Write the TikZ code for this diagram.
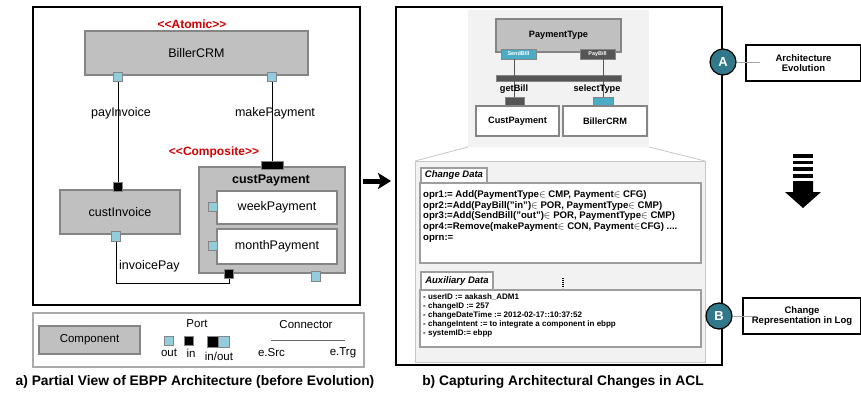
\documentclass[tikz,border=0pt]{standalone}
\usepackage{fontspec}
\setmainfont{Liberation Sans}
\usetikzlibrary{arrows.meta}
\definecolor{compgray}{HTML}{C0C0C0}
\definecolor{edgegray}{HTML}{858585}
\definecolor{lightblue}{HTML}{93CDDD}
\definecolor{midblue}{HTML}{4BACC6}
\definecolor{portdark}{HTML}{555555}
\definecolor{panelgray}{HTML}{F2F2F2}
\definecolor{panelline}{HTML}{C6C6C6}
\definecolor{circteal}{HTML}{31788A}
\definecolor{stereo}{HTML}{D00000}
\newcommand\setfs[1]{\fontsize{#1}{#1}\selectfont}
\tikzset{
  comp/.style={draw=edgegray, fill=compgray, line width=1.3pt, inner sep=0pt, font=\setfs{12.5}},
  subcomp/.style={draw=edgegray, fill=white, line width=1.3pt, inner sep=0pt, font=\setfs{12.5}},
  portout/.style={draw=edgegray, fill=lightblue, line width=0.8pt, minimum size=9.5pt, inner sep=0pt},
  portin/.style={draw=edgegray, fill=black, line width=0.8pt, minimum size=9.5pt, inner sep=0pt},
  conn/.style={black, line width=1pt},
  stereotype/.style={text=stereo, font=\bfseries\setfs{12}},
  lbl/.style={font=\setfs{12.5}, inner sep=0pt},
  leg/.style={font=\setfs{11.5}, inner sep=0pt},
  caption/.style={font=\bfseries\setfs{13.8}, inner sep=0pt},
  frame/.style={draw=black, line width=1.2pt},
  rbox/.style={draw=edgegray, fill=white, line width=1.2pt, inner sep=0pt, font=\bfseries\setfs{9.2}},
  rport/.style={draw=edgegray, line width=0.8pt, inner sep=0pt, text=white, font=\bfseries\setfs{5.5}},
  tab/.style={draw=edgegray!80, fill=white, line width=1.5pt, inner sep=0pt, font=\bfseries\itshape\setfs{9.5}},
  databox/.style={draw=edgegray!80, fill=white, line width=1.5pt, inner sep=0pt},
  datatext/.style={align=left, inner sep=0pt},
  marker/.style={circle, draw=black, line width=1.2pt, fill=circteal, minimum size=26pt, inner sep=0pt, text=white, font=\bfseries\setfs{13}},
  notebox/.style={draw=black, line width=1.1pt, fill=white, inner sep=0pt, align=center, font=\bfseries\setfs{9.5}},
}
\begin{document}
\begin{tikzpicture}[x=1pt, y=-1pt]
\useasboundingbox (0,0) rectangle (861,394);

% ---------------- a) architecture view ----------------
\draw[frame] (33,7) rectangle (360,305);

\node[stereotype] (atomic) at (192,24) {<{}<Atomic>{}>};
\node[comp, minimum width=223pt, minimum height=44pt] (biller) at (196.5,53) {BillerCRM};
\node[portout] (bOut1) at (118,77) {};
\node[portout] (bOut2) at (272,77) {};

\node[comp, minimum width=120pt, minimum height=44pt] (custInv) at (120,212) {custInvoice};
\node[portin] (ciIn) at (118,187) {};
\node[portout] (ciOut) at (116,236.5) {};

\node[stereotype] (composite) at (214,152) {<{}<Composite>{}>};
\node[comp, minimum width=146pt, minimum height=106pt] (custPay) at (272,220) {};
\node[font=\bfseries\setfs{12.5}, inner sep=0pt] (custPayLbl) at (271,180) {custPayment};
\node[portin, minimum width=22pt, minimum height=8pt] (cpIn) at (272,165) {};
\node[subcomp, minimum width=120pt, minimum height=33pt] (week) at (277,207.5) {weekPayment};
\node[subcomp, minimum width=120pt, minimum height=35pt] (month) at (277,246.5) {monthPayment};
\node[portout] (wPort) at (213,207) {};
\node[portout] (mPort) at (213,246) {};
\node[portin, minimum width=9pt] (cpIn2) at (229,274) {};
\node[portout] (cpOut) at (316,276.5) {};

% connectors
\draw[conn] (bOut1.south) -- (ciIn.north);
\draw[conn] (bOut2.south) -- (cpIn.north);
\coordinate (ipA) at (116,283);
\coordinate (ipB) at (229,283);
\draw[conn] (ciOut.south) -- (ipA) -- (ipB) -- (cpIn2.south);

\node[lbl] (payInvLbl) at (121,113) {payInvoice};
\node[lbl] (makePayLbl) at (275,113) {makePayment};
\node[lbl, anchor=west] (invPayLbl) at (119,266) {invoicePay};

% legend
\draw[draw=edgegray!70, line width=1.4pt] (33,313) rectangle (364,367);
\node[comp, minimum width=101pt, minimum height=28pt, font=\setfs{11.5}] (legComp) at (89.5,340) {Component};
\node[leg] (legPort) at (197,324) {Port};
\node[portout, minimum size=8.5pt] (legOut) at (169,341) {};
\node[portin, minimum size=8.5pt] (legIn) at (189,341) {};
\node[portin, minimum size=11pt] (legIO1) at (212.5,341.5) {};
\node[portout, minimum size=11pt] (legIO2) at (223.5,341.5) {};
\node[leg] (legOutT) at (169,353) {out};
\node[leg] (legInT) at (191,353) {in};
\node[leg] (legIOT) at (219,356) {in/out};
\node[leg] (legConn) at (306,325) {Connector};
\node[leg] (legSrc) at (271.5,353) {e.Src};
\node[leg] (legTrg) at (343,353) {e.Trg};
\coordinate (lcA) at (271,340);
\coordinate (lcB) at (345,340);
\draw[draw=black!60, line width=0.8pt] (lcA) -- (lcB);

\node[caption] (capA) at (195,382) {a) Partial View of EBPP Architecture (before Evolution)};

% arrow between the two panels
\coordinate (arS) at (363,181);
\coordinate (arE) at (391,181);
\draw[line width=5pt, -{Stealth[length=13pt, width=16pt, inset=3pt]}] (arS) -- (arE);

% ---------------- b) change capture ----------------
\draw[frame] (396,7) rectangle (722,365);

\fill[panelgray] (468,10) rectangle (649,147);
\node[comp, minimum width=125pt, minimum height=33pt, font=\bfseries\setfs{9.2}] (payType) at (558.5,35.5) {PaymentType};
\node[rport, fill=midblue, minimum width=35pt, minimum height=10pt] (sendBill) at (518.5,54) {SendBill};
\node[rport, fill=portdark, minimum width=35pt, minimum height=10pt] (payBill) at (597.5,54) {PayBill};
\node[draw=edgegray, fill=portdark, line width=0.8pt, minimum width=125pt, minimum height=6pt, inner sep=0pt] (bar) at (558.5,78) {};
\node[rport, fill=portdark, minimum width=19pt, minimum height=13pt] (getPort) at (514.5,103.5) {};
\node[rport, fill=midblue, minimum width=20pt, minimum height=13pt] (selPort) at (603,103.5) {};
\draw[draw=portdark, line width=1pt] (sendBill.south -| getPort.north) -- (getPort.north);
\draw[draw=portdark, line width=1pt] (payBill.south -| selPort.north) -- (selPort.north);
\node[rbox, minimum width=83pt, minimum height=30pt] (custPay2) at (517.5,121) {CustPayment};
\node[rbox, minimum width=84pt, minimum height=30pt] (biller2) at (605,121) {BillerCRM};
\node[font=\bfseries\setfs{9.2}, inner sep=0pt] (getLbl) at (514,89) {getBill};
\node[font=\bfseries\setfs{9.2}, inner sep=0pt] (selLbl) at (597,89) {selectType};

% zoom outline from the model to the log panel
\draw[draw=panelline, line width=0.8pt] (468,147) -- (415,161);
\draw[draw=panelline, line width=0.8pt] (649,147) -- (705,161);
\draw[draw=panelline, fill=panelgray, line width=1pt] (415,161) rectangle (705,362);

\node[databox, minimum width=281pt, minimum height=80pt] (chgBox) at (560.5,223) {};
\node[tab, minimum width=66pt, minimum height=15pt] (chgTab) at (454,175.5) {Change Data};
\node[datatext, font=\bfseries\fontsize{9.6}{10.6}\selectfont, anchor=north west] (chgText) at (423,190.5) {%
  opr1:= Add(PaymentType$\in$ CMP, Payment$\in$ CFG)\\
  opr2:=Add(PayBill("in")$\in$ POR, PaymentType$\in$ CMP)\\
  opr3:=Add(SendBill("out")$\in$ POR, PaymentType$\in$ CMP)\\
  opr4:=Remove(makePayment$\in$ CON, Payment$\in$CFG) ....\\
  oprn:=};

\coordinate (dotA) at (563,278);
\coordinate (dotB) at (563,288);
\draw[line width=2.2pt, dash pattern=on 1.3pt off 0.7pt] (dotA) -- (dotB);

\node[databox, minimum width=281pt, minimum height=57pt] (auxBox) at (560.5,318.5) {};
\node[tab, minimum width=72pt, minimum height=18pt] (auxTab) at (457,281) {Auxiliary Data};
\node[datatext, font=\bfseries\fontsize{8}{9.1}\selectfont, anchor=north west] (auxText) at (423,293) {%
  - userID := aakash\_ADM1\\
  - changeID := 257\\
  - changeDateTime := 2012-02-17::10:37:52\\
  - changeIntent := to integrate a component in ebpp\\
  - systemID:= ebpp};

\node[caption] (capB) at (563,382) {b) Capturing Architectural Changes in ACL};

% process markers
\node[notebox, minimum width=115pt, minimum height=36pt] (noteA) at (803.5,63) {Architecture\\[1pt]Evolution};
\node[notebox, minimum width=118pt, minimum height=36pt] (noteB) at (802,316) {Change\\[1pt]Representation in Log};
\node[marker] (mA) at (723,62) {A};
\node[marker] (mB) at (719,316) {B};
\coordinate (lnA) at (760,62);
\coordinate (lnB) at (752,316);
\draw[draw=black!35, line width=0.6pt] (mA.east) -- (lnA);
\draw[draw=black!35, line width=0.6pt] (mB.east) -- (lnB);

% striped downward arrow
\foreach \yy in {154,160.5,167,174}
  \fill (793,\yy) rectangle (813,\yy+3.6);
\fill (793,181) -- (813,181) -- (813,192) -- (821,192) -- (803,208) -- (785,192) -- (793,192) -- cycle;
\end{tikzpicture}
\end{document}
